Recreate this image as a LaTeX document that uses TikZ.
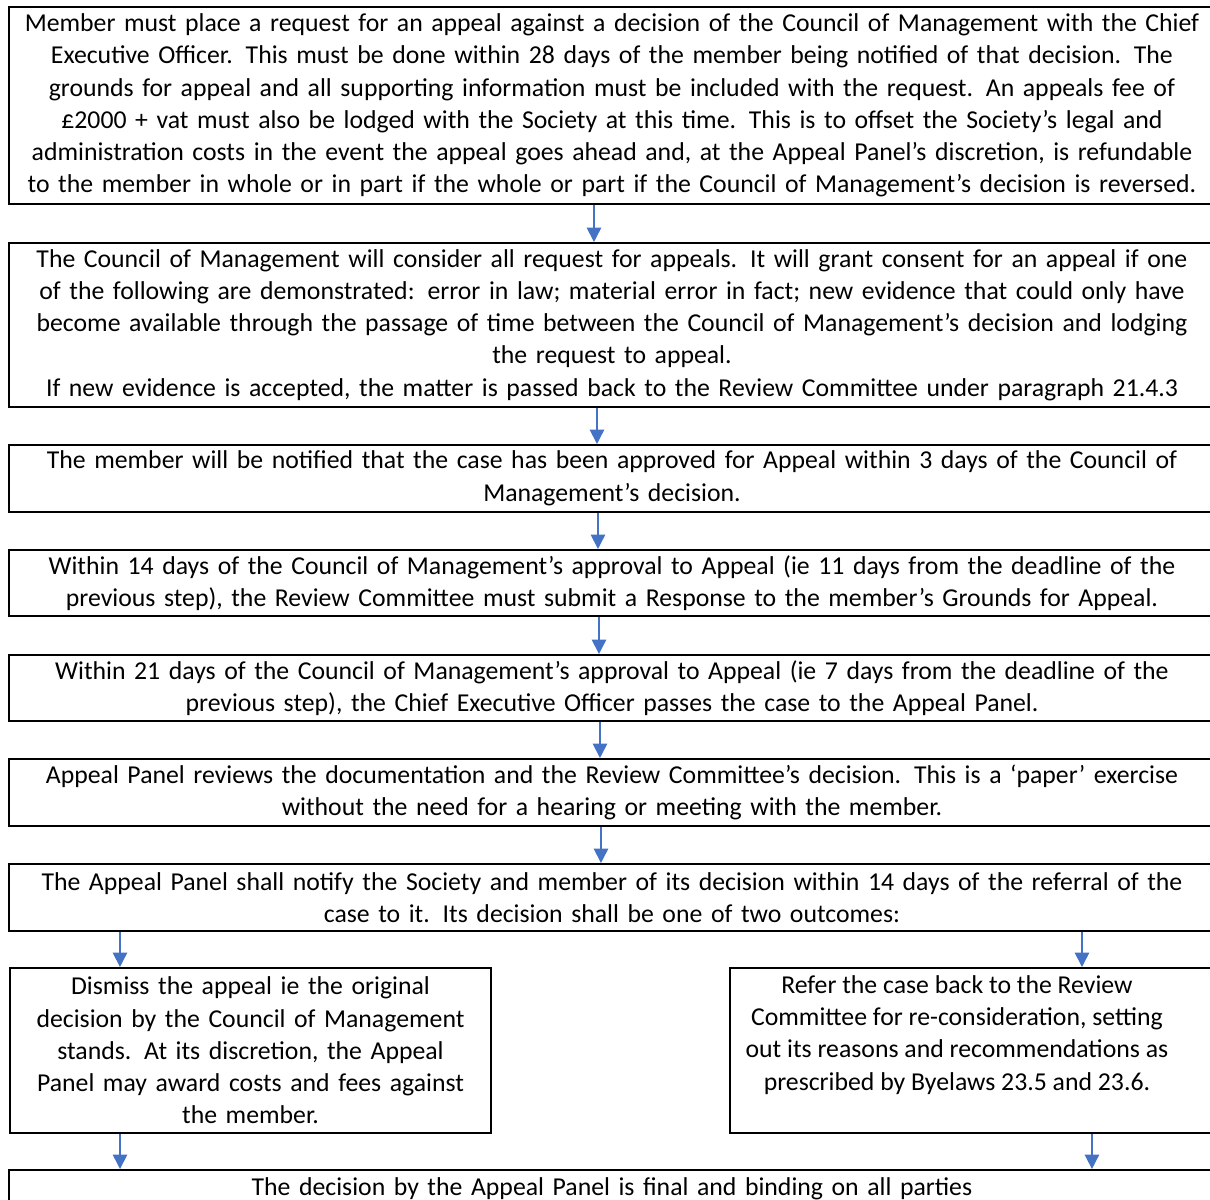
\documentclass[tikz,border=0pt]{standalone}
\usepackage{fontspec}
\setmainfont{Carlito}
\usetikzlibrary{arrows.meta,positioning}

\newcommand{\pxlen}{0.4155pt}
\definecolor{flowblue}{RGB}{68,114,196}

\tikzset{
	stepbox/.style={draw, line width=0.8pt, inner xsep=4pt, inner ysep=0.6pt,
		anchor=north west, font=\fontsize{10.7}{13.42}\selectfont},
	steptext/.style={stepbox, text width=#1, align=center},
	flowarrow/.style={draw=flowblue, line width=0.7pt, -{Triangle[width=6pt,length=6pt]}}
}

\begin{document}
\begin{tikzpicture}[x=0.4155pt, y=-0.4155pt]
	\useasboundingbox (0,0) rectangle (1210,1200);

	\node [steptext=493.1pt, minimum height=81.9pt] (request) at (8,6)
		{Member must place a request for an appeal against a decision of the Council of Management with the Chief\\
		Executive Officer. This must be done within 28 days of the member being notified of that decision. The\\
		grounds for appeal and all supporting information must be included with the request. An appeals fee of\\
		£2000 + vat must also be lodged with the Society at this time. This is to offset the Society’s legal and\\
		administration costs in the event the appeal goes ahead and, at the Appeal Panel’s discretion, is refundable\\
		to the member in whole or in part if the whole or part if the Council of Management’s decision is reversed.};

	\node [steptext=493.1pt, minimum height=68.1pt] (consider) at (8,242)
		{The Council of Management will consider all request for appeals. It will grant consent for an appeal if one\\
		of the following are demonstrated: error in law; material error in fact; new evidence that could only have\\
		become available through the passage of time between the Council of Management’s decision and lodging\\
		the request to appeal.\\
		If new evidence is accepted, the matter is passed back to the Review Committee under paragraph 21.4.3};

	\node [steptext=493.1pt, minimum height=27.8pt] (approved) at (8,444)
		{The member will be notified that the case has been approved for Appeal within 3 days of the Council of\\
		Management’s decision.};

	\node [steptext=493.1pt, minimum height=27.4pt] (response) at (8,549)
		{Within 14 days of the Council of Management’s approval to Appeal (ie 11 days from the deadline of the\\
		previous step), the Review Committee must submit a Response to the member’s Grounds for Appeal.};

	\node [steptext=493.1pt, minimum height=27.4pt] (passcase) at (8,654)
		{Within 21 days of the Council of Management’s approval to Appeal (ie 7 days from the deadline of the\\
		previous step), the Chief Executive Officer passes the case to the Appeal Panel.};

	\node [steptext=493.1pt, minimum height=27.8pt] (review) at (8,758)
		{Appeal Panel reviews the documentation and the Review Committee’s decision. This is a ‘paper’ exercise\\
		without the need for a hearing or meeting with the member.};

	\node [steptext=493.1pt, minimum height=27.8pt] (notify) at (8,863)
		{The Appeal Panel shall notify the Society and member of its decision within 14 days of the referral of the\\
		case to it. Its decision shall be one of two outcomes:};

	% the two outcomes
	\node [steptext=191.9pt, minimum height=68.6pt] (dismiss) at (9,967)
		{Dismiss the appeal ie the original\\
		decision by the Council of Management\\
		stands. At its discretion, the Appeal\\
		Panel may award costs and fees against\\
		the member.};

	\node [stepbox, inner xsep=2.9pt, inner ysep=3.1pt] (refer) at (729,967)
		{\parbox[c][62.4pt][t]{182.8pt}{\centering
		Refer the case back to the Review\\
		Committee for re-consideration, setting\\
		out its reasons and recommendations as\\
		prescribed by Byelaws 23.5 and 23.6.}\hspace*{12.9pt}};

	\node [steptext=493.1pt, minimum height=16pt] (final) at (8,1169)
		{The decision by the Appeal Panel is final and binding on all parties};

	% arrows down the main column
	\foreach \from/\to/\dx in {request/consider/-18, consider/approved/-15,
			approved/response/-14, response/passcase/-13, passcase/review/-12,
			review/notify/-11, notify/dismiss/-492, notify/refer/470,
			dismiss/final/-130.5, refer/final/119.5}
	{
		\coordinate (start) at ([xshift=\dx*\pxlen]\from.south);
		\draw [flowarrow] (start) -- (start |- \to.north);
	}

\end{tikzpicture}
\end{document}
